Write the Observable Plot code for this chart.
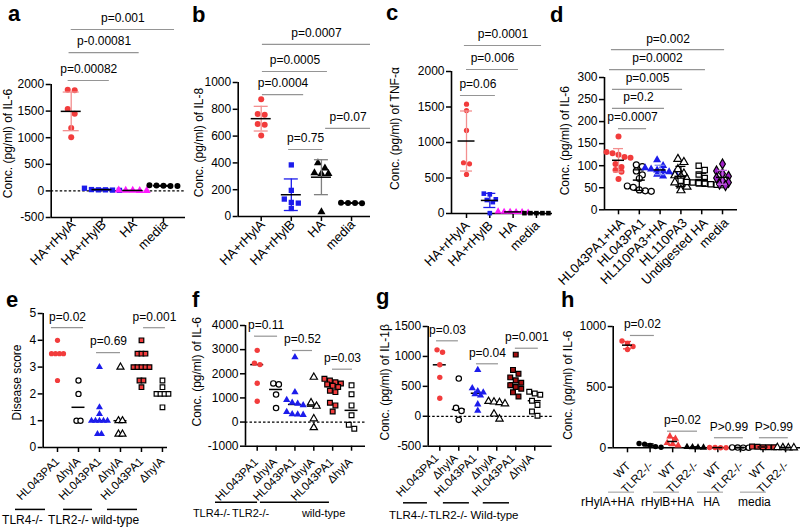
<!DOCTYPE html>
<html>
<head>
<meta charset="utf-8">
<script src="https://cdn.jsdelivr.net/npm/d3@7"></script>
<script src="https://cdn.jsdelivr.net/npm/@observablehq/plot@0.6"></script>
<style>
html,body{margin:0;padding:0;background:#fff;}
#fig{position:relative;width:800px;height:530px;overflow:hidden;background:#fff;font-family:"Liberation Sans",Arial,Helvetica,sans-serif;}
#fig svg{position:absolute;}
#fig svg [aria-label^="x-axis"] line,#fig svg [aria-label^="y-axis"] line,
#fig svg [aria-label^="x-axis"] path,#fig svg [aria-label^="y-axis"] path{stroke-width:1.5px;}
</style>
</head>
<body>
<div id="fig"></div>
<script>
// ---------------- DATA ----------------
// a: IL-6
const aCategories = ["HA+rHylA", "HA+rHylB", "HA", "media"];
const aHArHylA = [1900, 1890, 1540, 1450, 1180, 1010];
const aHArHylB = [50, 25, 20, 15, 10, 20];
const aHA = [12, 8, 5, 10, 6];
const aMedia = [95, 100, 90, 105, 92];
const aTicks = [-500, 0, 500, 1000, 1500, 2000];
const aPvalues = [
  {p: "p=0.00082", from: 0.90, to: 2.24, level: 2075},
  {p: "p-0.00081", from: 0.93, to: 3.21, level: 2601},
  {p: "p=0.001", from: 1.0, to: 4.36, level: 3034}
];
// b: IL-8
const bCategories = ["HA+rHylA", "HA+rHylB", "HA", "media"];
const bHArHylA = [875, 765, 760, 690, 685, 605];
const bHArHylB = [385, 195, 130, 105, 100, 60];
const bHA = [400, 360, 320, 325, 320, 35];
const bMedia = [98, 102, 100, 100];
const bTicks = [0, 200, 400, 600, 800, 1000];
const bPvalues = [
  {p: "p=0.0004", from: 1.04, to: 2.41, level: 910},
  {p: "p=0.0005", from: 1.04, to: 3.2, level: 1082},
  {p: "p=0.0007", from: 1.04, to: 4.63, level: 1284},
  {p: "p=0.75", from: 1.91, to: 3.04, level: 500},
  {p: "p=0.07", from: 3.14, to: 4.63, level: 657}
];
// c: TNF-alpha
const cCategories = ["HA+rHylA", "HA+rHylB", "HA", "media"];
const cHArHylA = [1540, 1450, 1170, 715, 700, 550];
const cHArHylB = [280, 270, 200, 190, 160, 5];
const cHA = [30, 25, 20, 20, 15, 25];
const cMedia = [5, 5, 5, 5, 5];
const cTicks = [0, 500, 1000, 1500, 2000];
const cPvalues = [
  {p: "p=0.06", from: 0.74, to: 2.24, level: 1662},
  {p: "p=0.006", from: 1.0, to: 3.23, level: 2028},
  {p: "p=0.0001", from: 0.91, to: 4.22, level: 2366}
];
// d: IL-6
const dCategories = ["HL043PA1+HA", "HL043PA1", "HL110PA3+HA", "HL110PA3", "Undigested HA", "media"];
const dHL043HA = [166, 131, 128, 125, 120, 118, 104, 97, 90, 86, 70];
const dHL043 = [102, 98, 88, 79, 71, 54, 51, 45, 43, 42];
const dHL110HA = [113, 100, 95, 92, 90, 88, 86, 84, 80, 76];
const dHL110 = [115, 108, 92, 82, 78, 76, 70, 62, 55, 52, 44];
const dUndigested = [100, 90, 80, 72, 66, 63, 62, 60, 59, 58, 57, 56];
const dMedia = [104, 88, 82, 76, 72, 66, 62, 58, 55];
const dTicks = [0, 50, 100, 150, 200, 250, 300];
const dPvalues = [
  {p: "p=0.0007", from: 1.0, to: 2.35, level: 184},
  {p: "p=0.2", from: 0.71, to: 3.21, level: 230},
  {p: "p=0.005", from: 0.71, to: 4.08, level: 273},
  {p: "p=0.0002", from: 0.57, to: 5.18, level: 318},
  {p: "p=0.002", from: 0.66, to: 6.1, level: 363}
];
// e: disease score
const eCategories = ["HL043PA1", "ΔhylA", "HL043PA1", "ΔhylA", "HL043PA1", "ΔhylA"];
const eGroups = ["TLR4-/-", "TLR2-/-", "wild-type"];
const eTLR4HL = [4, 3.5, 3.5, 3.5, 3.5, 2.5];
const eTLR4Del = [2.5, 2, 1, 1];
const eTLR2HL = [3, 1.5, 1.25, 1, 1, 1, 1, 1, 0.5, 0.5];
const eTLR2Del = [3, 1, 1, 0.5, 0.5];
const eWTHL = [4, 3.5, 3.5, 3.5, 3, 3, 3, 3, 3, 2.5, 2.5, 2.25];
const eWTDel = [2.5, 2.25, 2, 2, 2, 2, 1.5];
const eTicks = [0, 1, 2, 3, 4, 5];
const ePvalues = [
  {p: "p=0.02", from: 0.71, to: 2.24, level: 4.47},
  {p: "p=0.69", from: 2.86, to: 4.0, level: 3.54},
  {p: "p=0.001", from: 5.1, to: 6.14, level: 4.47}
];
// f: IL-6
const fCategories = ["HL043PA1", "ΔhylA", "HL043PA1", "ΔhylA", "HL043PA1", "ΔhylA"];
const fGroups = ["TLR4-/-", "TLR2-/-", "wild-type"];
const fTLR4HL = [2970, 2440, 2380, 1610, 860];
const fTLR4Del = [1600, 1560, 1140, 580];
const fTLR2HL = [2690, 1240, 920, 800, 760, 700, 420, 330, 320, 300];
const fTLR2Del = [1860, 800, 660, 140, -230];
const fWTHL = [1790, 1720, 1650, 1600, 1560, 1500, 1450, 1300, 1240, 800, 690, 440];
const fWTDel = [1520, 1150, 690, 280, -110, -280];
const fTicks = [-1000, 0, 1000, 2000, 3000, 4000];
const fPvalues = [
  {p: "p=0.11", from: 0.86, to: 2.08, level: 3557},
  {p: "p=0.52", from: 2.87, to: 3.93, level: 2964},
  {p: "p=0.03", from: 4.99, to: 6.05, level: 2190}
];
// g: IL-1beta
const gCategories = ["HL043PA1", "ΔhylA", "HL043PA1", "ΔhylA", "HL043PA1", "ΔhylA"];
const gGroups = ["TLR4-/-", "TLR2-/-", "Wild-type"];
const gTLR4HL = [1110, 1070, 860, 650, 300];
const gTLR4Del = [630, 140, 90, -60];
const gTLR2HL = [775, 470, 420, 400, 370, 350, 200, 95];
const gTLR2Del = [250, 240, 230, 210, 40, -45];
const gWTHL = [1030, 775, 710, 650, 600, 560, 520, 490, 460, 400, 330];
const gWTDel = [410, 380, 360, 260, 190, 80, 10];
const gTicks = [-500, 0, 500, 1000, 1500];
const gPvalues = [
  {p: "p=0.03", from: 0.83, to: 1.98, level: 1261},
  {p: "p=0.04", from: 2.93, to: 4.09, level: 877},
  {p: "p=0.001", from: 4.98, to: 6.19, level: 1137}
];
// h: IL-6
const hCategories = ["WT", "TLR2-/-", "WT", "TLR2-/-", "WT", "TLR2-/-", "WT", "TLR2-/-"];
const hGroups = ["rHylA+HA", "rHylB+HA", "HA", "media"];
const hHylAWT = [880, 860, 835, 810];
const hHylATLR2 = [35, 30, 20, 10, 5];
const hHylBWT = [95, 75, 40, 30, 20];
const hHylBTLR2 = [8, 5, 3, 2];
const hHAWT = [2, 2, 1, 1];
const hHATLR2 = [3, 2, 1, 1];
const hMediaWT = [10, 8, 5, 5, 5];
const hMediaTLR2 = [3, 2, 1, 1];
const hTicks = [0, 500, 1000];
const hPvalues = [
  {p: "p=0.02", from: 1.13, to: 2.19, level: 926},
  {p: "p=0.02", from: 2.77, to: 4.1, level: 137},
  {p: "P>0.99", from: 4.85, to: 6.13, level: 83},
  {p: "P>0.99", from: 6.84, to: 8.12, level: 83}
];

// ---------------- STYLES ----------------
const RED = "#f23c3c", LRED = "#f39090", BLUE = "#1c1ceb", LBLUE = "#7f8cf0",
      MAG = "#ff1aff", PURPLE = "#a020c8", DARKRED = "#a30f0f";
const fill = (color, symbol, err, stroke) => ({symbol, fill: color, stroke: stroke || "none", err: err || color});
const open = (symbol, err) => ({symbol, fill: "white", stroke: "black", err: err || "black"});

function dodge(vals, sy, gap) {
  const order = d3.range(vals.length).sort((i, j) => vals[j] - vals[i]);
  const off = new Array(vals.length).fill(0);
  let row = [];
  const flush = () => { row.forEach((i, k) => { off[i] = (k - (row.length - 1) / 2) * gap; }); row = []; };
  for (const i of order) {
    if (row.length && (vals[row[0]] - vals[i]) * sy >= gap) flush();
    row.push(i);
  }
  flush();
  return off;
}

function makePanel(c) {
  const n = c.cats.length;
  const fw = c.width - c.ml - c.mr, fh = c.height - c.mt - c.mb;
  const sx = fw / (c.xDomain[1] - c.xDomain[0]);
  const sy = fh / (c.yDomain[1] - c.yDomain[0]);
  const [x0, x1] = c.xDomain, [y0, y1] = c.yDomain;
  const marks = [];
  if (c.zero) marks.push(Plot.ruleY([0], {x1: () => x0, x2: () => x1, stroke: "black", strokeWidth: 1.2, strokeDasharray: "2.5,2"}));
  marks.push(Plot.ruleX([x0], {y1: () => y0, y2: () => y1, stroke: "black", strokeWidth: 1.6}));
  marks.push(Plot.ruleY([y0], {x1: () => x0, x2: () => x1, stroke: "black", strokeWidth: 1.6}));
  c.series.forEach((vals, g) => {
    const st = c.styles[g];
    const cx = g + 1;
    const offs = dodge(vals, sy, c.gap);
    const pts = vals.map((v, k) => ({x: cx + offs[k] / sx, y: v}));
    const dots = Plot.dot(pts, {x: "x", y: "y", symbol: st.symbol, fill: st.fill, stroke: st.stroke, strokeWidth: 1.2, r: c.r});
    if (c.summary === "mean") {
      const mean = d3.mean(vals), sd = d3.deviation(vals) || 0;
      const cap = c.capW / 2 / sx, mw = c.meanW / 2 / sx;
      marks.push(dots);
      marks.push(Plot.ruleX([cx], {y1: () => mean - sd, y2: () => mean + sd, stroke: st.err, strokeWidth: 1.3}));
      marks.push(Plot.ruleY([mean - sd, mean + sd], {x1: () => cx - cap, x2: () => cx + cap, stroke: st.err, strokeWidth: 1.3}));
      marks.push(Plot.ruleY([mean], {x1: () => cx - mw, x2: () => cx + mw, stroke: "black", strokeWidth: 1.5}));
    } else {
      const med = d3.median(vals), mw = c.meanW / 2 / sx;
      marks.push(Plot.ruleY([med], {x1: () => cx - mw, x2: () => cx + mw, stroke: "black", strokeWidth: 1.5}));
      marks.push(dots);
    }
  });
  // p-value brackets
  marks.push(Plot.ruleY(c.pvals, {y: "level", x1: "from", x2: "to", stroke: "#959595", strokeWidth: 1.2}));
  marks.push(Plot.text(c.pvals, {x: d => (d.from + d.to) / 2, y: "level", text: "p", dy: -11, fill: "black"}));
  // rotated category labels
  const catLabels = c.cats.map((t, i) => ({t, x: i + 1}));
  marks.push(Plot.text(catLabels, {x: "x", text: "t", frameAnchor: "bottom", rotate: -45, textAnchor: "end", lineAnchor: "middle",
    dx: c.labDx, dy: c.labDy, fontSize: c.xFont, fill: "black"}));
  if (c.groups) {
    const gl = c.groups.map((label, k) => ({label, a: c.groupLines[k][0], b: c.groupLines[k][1], tx: c.groupTextX[k]}));
    marks.push(Plot.ruleY(gl, {y: () => c.groupLineLevel, x1: "a", x2: "b", stroke: c.groupColor, strokeWidth: 1.5}));
    marks.push(Plot.text(gl, {x: "tx", y: () => c.groupTextLevel, text: "label", fill: "black", fontSize: c.groupFont}));
  }
  marks.push(Plot.text([c.title], {frameAnchor: "left", textAnchor: "middle", rotate: -90, dx: c.titleDx, dy: c.titleDy, fill: "black"}));

  const svg = Plot.plot({
    width: c.width, height: c.height,
    marginLeft: c.ml, marginRight: c.mr, marginTop: c.mt, marginBottom: c.mb,
    style: {fontFamily: "Liberation Sans, Arial, Helvetica, sans-serif", fontSize: "12px", background: "none", overflow: "visible", color: "black"},
    x: {type: "linear", domain: c.xDomain, ticks: d3.range(1, n + 1), tickFormat: () => "", tickSize: 5, label: null},
    y: {domain: c.yDomain, ticks: c.yTicks, tickFormat: d => String(d), tickSize: 5, tickPadding: 2, label: null},
    marks
  });
  svg.style.left = c.left + "px";
  svg.style.top = c.top + "px";
  document.getElementById("fig").appendChild(svg);
}

const panels = [
  {cats: aCategories, series: [aHArHylA, aHArHylB, aHA, aMedia], yTicks: aTicks, pvals: aPvalues,
   styles: [fill(RED, "circle", LRED), fill(BLUE, "square"), fill(MAG, "triangle"), fill("black", "circle")],
   left: 0, top: 0, width: 195, height: 270, ml: 50.7, mr: 10, mt: 84, mb: 53,
   xDomain: [0.349, 4.717], yDomain: [-500, 2000], zero: true, summary: "mean", meanW: 20, capW: 16, r: 3, gap: 7,
   title: "Conc. (pg/ml) of IL-6", titleDx: -43, titleDy: -7.5, xFont: 13, labDx: 2, labDy: 5},
  {cats: bCategories, series: [bHArHylA, bHArHylB, bHA, bMedia], yTicks: bTicks, pvals: bPvalues,
   styles: [fill(RED, "circle", LRED), fill(BLUE, "square"), fill("black", "triangle", "#808080"), fill("black", "circle")],
   left: 190, top: 0, width: 190, height: 270, ml: 47.7, mr: 10, mt: 82, mb: 54,
   xDomain: [0.236, 4.63], yDomain: [0, 1000], summary: "mean", meanW: 20, capW: 14, r: 3, gap: 7,
   title: "Conc. (pg/ml) of IL-8", titleDx: -39, titleDy: -7, xFont: 13, labDx: 1.5, labDy: 6},
  {cats: cCategories, series: [cHArHylA, cHArHylB, cHA, cMedia], yTicks: cTicks, pvals: cPvalues,
   styles: [fill(RED, "circle", LRED), fill(BLUE, "square"), fill(MAG, "triangle"), fill("black", "square")],
   left: 385, top: 0, width: 170, height: 270, ml: 66, mr: 3, mt: 71, mb: 57,
   xDomain: [0.356, 4.69], yDomain: [0, 2000], summary: "mean", meanW: 17, capW: 12, r: 2.6, gap: 6,
   title: "Conc. (pg/ml) of TNF-α", titleDx: -56, titleDy: -14, xFont: 13, labDx: 1, labDy: 10},
  {cats: dCategories, series: [dHL043HA, dHL043, dHL110HA, dHL110, dUndigested, dMedia], yTicks: dTicks, pvals: dPvalues,
   styles: [fill(RED, "circle", LRED), open("circle"), fill(BLUE, "triangle", LBLUE), open("triangle"), open("square"), fill(PURPLE, "diamond", "#c060e0", "black")],
   left: 555, top: 0, width: 245, height: 270, ml: 49, mr: 63, mt: 77, mb: 60.7,
   xDomain: [0.327, 6.72], yDomain: [0, 300], summary: "mean", meanW: 12, capW: 10, r: 3, gap: 6,
   title: "Conc. (pg/ml) of IL-6", titleDx: -39, titleDy: -3, xFont: 13, labDx: 4, labDy: 11},
  {cats: eCategories, series: [eTLR4HL, eTLR4Del, eTLR2HL, eTLR2Del, eWTHL, eWTDel], yTicks: eTicks, pvals: ePvalues,
   styles: [fill(RED, "circle"), open("circle"), fill(BLUE, "triangle"), open("triangle"), fill(RED, "square", RED, "black"), open("square")],
   left: 0, top: 270, width: 190, height: 260, ml: 42.7, mr: 23, mt: 43, mb: 83,
   xDomain: [0.319, 6.24], yDomain: [0, 5], summary: "median", meanW: 13, r: 2.6, gap: 4,
   title: "Disease score", titleDx: -26, titleDy: 2, xFont: 11.5, labDx: 0, labDy: 12,
   groups: eGroups, groupLines: [[-1.0, 0.43], [1.29, 2.67], [3.38, 4.81]], groupTextX: [-0.67, 1.52, 3.76],
   groupLineLevel: -2.31, groupTextLevel: -2.72, groupColor: "black", groupFont: 12},
  {cats: fCategories, series: [fTLR4HL, fTLR4Del, fTLR2HL, fTLR2Del, fWTHL, fWTDel], yTicks: fTicks, pvals: fPvalues,
   styles: [fill(RED, "circle"), open("circle"), fill(BLUE, "triangle"), open("triangle"), fill(RED, "square", RED, "black"), open("square")],
   left: 190, top: 270, width: 190, height: 260, ml: 55, mr: 15, mt: 55, mb: 84.3,
   xDomain: [0.38, 6.74], yDomain: [-1000, 4000], zero: true, summary: "median", meanW: 13, r: 2.7, gap: 5.5,
   title: "Conc. (pg/ml) of IL-6", titleDx: -48, titleDy: -14, xFont: 11.5, labDx: -1, labDy: 14,
   groups: fGroups, groupLines: [[-1.21, 1.02], [1.17, 3.14], [3.14, 4.83]], groupTextX: [-1.42, 0.65, 4.52],
   groupLineLevel: -3321, groupTextLevel: -3789, groupColor: "black", groupFont: 11},
  {cats: gCategories, series: [gTLR4HL, gTLR4Del, gTLR2HL, gTLR2Del, gWTHL, gWTDel], yTicks: gTicks, pvals: gPvalues,
   styles: [fill(RED, "circle"), open("circle"), fill(BLUE, "triangle"), open("triangle"), fill(DARKRED, "square", DARKRED, "black"), open("square")],
   left: 375, top: 270, width: 185, height: 260, ml: 52.7, mr: 8.3, mt: 56, mb: 84.3,
   xDomain: [0.39, 6.92], yDomain: [-500, 1500], zero: true, summary: "median", meanW: 13, r: 2.7, gap: 5.5,
   title: "Conc. (pg/ml) of IL-1β", titleDx: -43, titleDy: -4, xFont: 11.5, labDx: -3, labDy: 10,
   groups: gGroups, groupLines: [[-0.91, 0.35], [1.19, 2.56], [3.29, 4.67]], groupTextX: [-0.65, 1.43, 3.88],
   groupLineLevel: -1446, groupTextLevel: -1658, groupColor: "black", groupFont: 11.5},
  {cats: hCategories, series: [hHylAWT, hHylATLR2, hHylBWT, hHylBTLR2, hHAWT, hHATLR2, hMediaWT, hMediaTLR2], yTicks: hTicks, pvals: hPvalues,
   styles: [fill(RED, "circle"), fill("black", "circle"), fill(RED, "triangle"), fill("black", "triangle"), fill(RED, "circle"), open("circle"), fill(RED, "square", RED, "black"), open("triangle")],
   left: 560, top: 270, width: 240, height: 260, ml: 52.7, mr: 0, mt: 56, mb: 82.7,
   xDomain: [0.367, 8.66], yDomain: [0, 1000], summary: "mean", meanW: 10, capW: 8, r: 2.7, gap: 5.5,
   title: "Conc. (pg/ml) of IL-6", titleDx: -45, titleDy: -2, xFont: 11.5, labDx: 1, labDy: 16,
   groups: hGroups, groupLines: [[0.16, 1.31], [2.15, 3.3], [4.1, 5.25], [6.0, 7.15]], groupTextX: [0.12, 2.77, 4.72, 6.62],
   groupLineLevel: -366, groupTextLevel: -448, groupColor: "#bbbbbb", groupFont: 12}
];
panels.forEach(makePanel);

// panel letters
const letters = [
  {t: "a", x: 8, y: 21}, {t: "b", x: 192, y: 22}, {t: "c", x: 386, y: 20}, {t: "d", x: 550, y: 22},
  {t: "e", x: 6, y: 307}, {t: "f", x: 192, y: 307}, {t: "g", x: 376, y: 304}, {t: "h", x: 561, y: 307}
];
const ov = d3.select("#fig").append("svg").attr("width", 800).attr("height", 530).style("left", "0px").style("top", "0px");
ov.selectAll("text").data(letters).join("text")
  .attr("x", d => d.x).attr("y", d => d.y).text(d => d.t)
  .attr("font-family", "Liberation Sans, Arial, sans-serif").attr("font-weight", "bold").attr("font-size", 22);
</script>
</body>
</html>
